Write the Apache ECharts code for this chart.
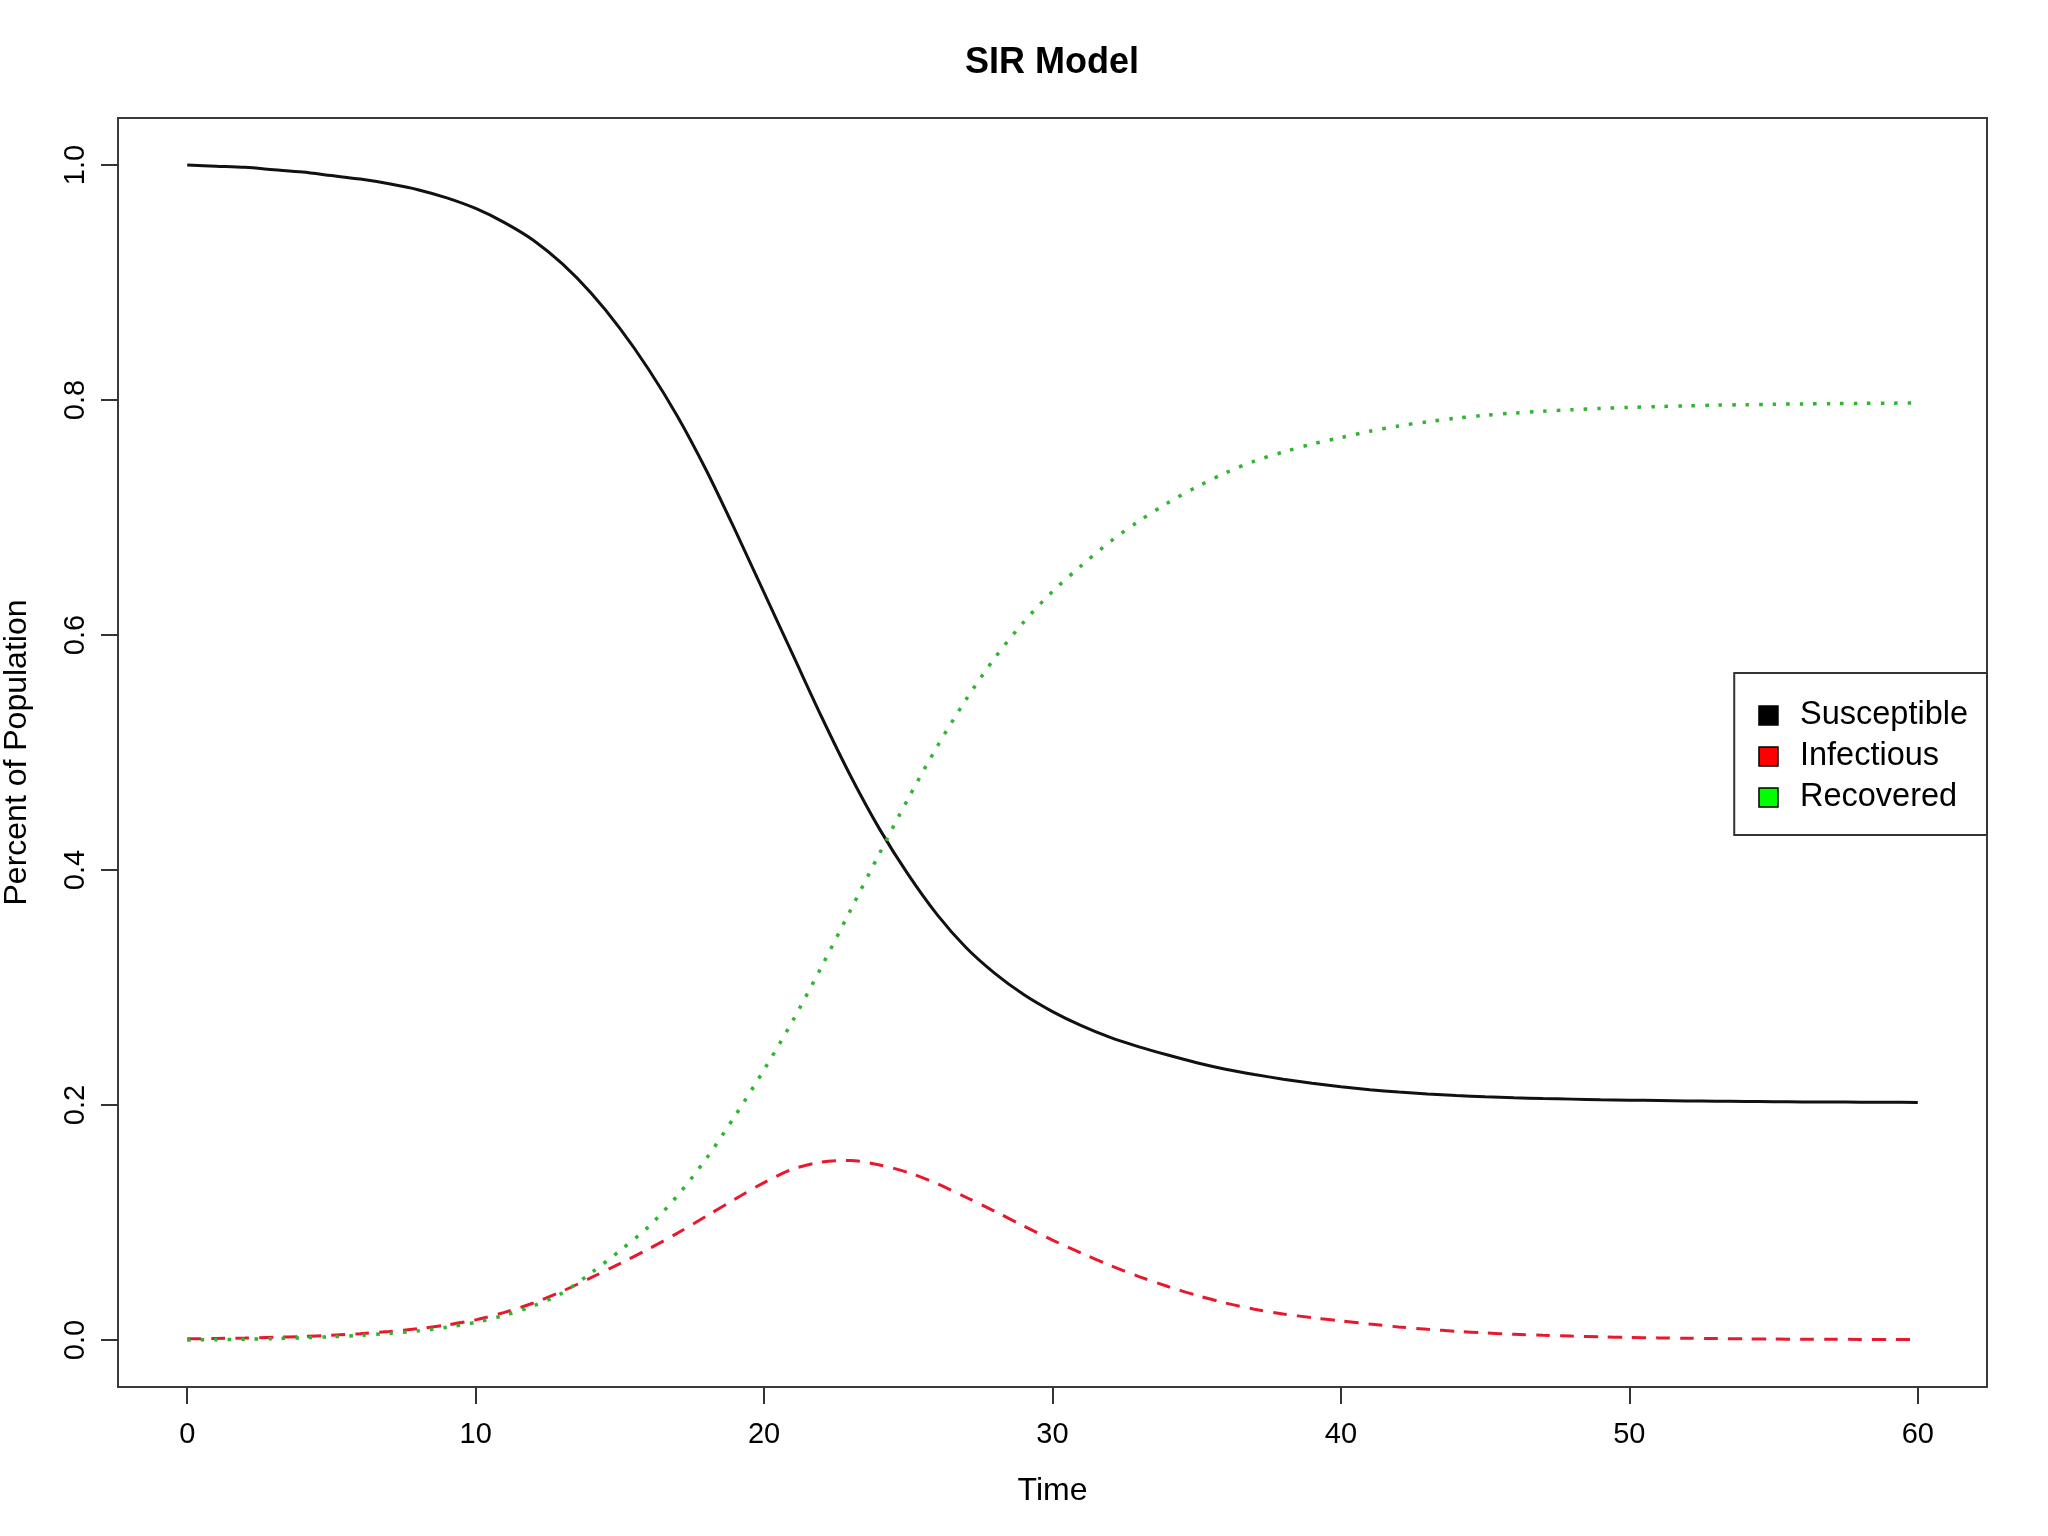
<!DOCTYPE html>
<html>
<head>
<meta charset="utf-8">
<script src="https://cdn.jsdelivr.net/npm/echarts@6/dist/echarts.min.js"></script>
<style>
html,body{margin:0;padding:0;background:#fff;}
#chart{width:2048px;height:1536px;}
</style>
</head>
<body>
<div id="chart"></div>
<script>
// Time points
var times = [0,1,2,3,4,5,6,7,8,9,10,11,12,13,14,15,16,17,18,19,20,21,22,23,24,25,26,27,28,29,30,31,32,33,34,35,36,37,38,39,40,41,42,43,44,45,46,47,48,49,50,51,52,53,54,55,56,57,58,59,60];
// Susceptible
var susceptible = [1.000,0.999,0.998,0.996,0.994,0.991,0.988,0.984,0.979,0.972,0.963,0.951,0.936,0.916,0.891,0.861,0.826,0.786,0.740,0.689,0.636,0.583,0.530,0.480,0.435,0.396,0.362,0.334,0.312,0.294,0.2795,0.2675,0.2575,0.2495,0.2425,0.236,0.2305,0.226,0.222,0.2185,0.2155,0.2130,0.2110,0.2094,0.2081,0.2070,0.2062,0.2055,0.2050,0.2045,0.2041,0.2038,0.2035,0.2032,0.2030,0.2028,0.2026,0.2025,0.2024,0.2023,0.2022];
// Infectious
var infectious = [0.0010,0.0013,0.0017,0.0023,0.0030,0.0040,0.0054,0.0072,0.0096,0.0128,0.0171,0.0235,0.0315,0.0415,0.0530,0.0650,0.0775,0.0910,0.1055,0.1200,0.1340,0.1455,0.1515,0.1527,0.1490,0.1425,0.1330,0.1215,0.1095,0.0970,0.0850,0.0740,0.0635,0.0540,0.0455,0.0380,0.0315,0.0262,0.0222,0.0190,0.0163,0.0136,0.0111,0.0091,0.0074,0.0060,0.0049,0.0040,0.0033,0.0027,0.0022,0.0018,0.0015,0.0012,0.0010,0.0008,0.0007,0.0006,0.0005,0.0004,0.0003];
// Recovered
var recovered = [0.0000,0.0003,0.0007,0.0012,0.0019,0.0028,0.0040,0.0056,0.0078,0.0108,0.0150,0.0210,0.0290,0.0400,0.0570,0.0760,0.0965,0.1230,0.1545,0.1910,0.2300,0.2720,0.3180,0.3660,0.4140,0.4610,0.5050,0.5450,0.5805,0.6110,0.6370,0.6590,0.6795,0.6970,0.7125,0.7260,0.7380,0.7480,0.7557,0.7625,0.7680,0.7734,0.7779,0.7815,0.7845,0.7870,0.7889,0.7905,0.7917,0.7928,0.7937,0.7944,0.7950,0.7956,0.7960,0.7964,0.7967,0.7969,0.7971,0.7973,0.7975];

var xTicks = [0,10,20,30,40,50,60];
var yTicks = [0,0.2,0.4,0.6,0.8,1.0];
var yTickLabels = ['0.0','0.2','0.4','0.6','0.8','1.0'];
var seriesNames = ['Susceptible','Infectious','Recovered'];

function pairs(arr){ return times.map(function(t,i){ return [t, arr[i]]; }); }

var FONT = '"Liberation Sans", Arial, Helvetica, sans-serif';
var chart = echarts.init(document.getElementById('chart'), null, {renderer:'canvas'});
chart.setOption({
  animation: false,
  backgroundColor: '#ffffff',
  title: {
    text: 'SIR Model', left: 1047, top: 40, textAlign: 'center',
    textStyle: {fontFamily: FONT, fontSize: 36, fontWeight: 'bold', color: '#000'}
  },
  legend: {
    right: 61, top: 673, orient: 'vertical',
    padding: [26, 19, 21, 24],
    borderColor: '#333', borderWidth: 2,
    itemWidth: 19, itemHeight: 19, itemGap: 8,
    textStyle: {fontFamily: FONT, fontSize: 32.5, color: '#000', lineHeight: 32, padding: [0,0,0,17]},
    data: [
      {name: seriesNames[0], icon: 'rect', itemStyle: {color: '#000000', borderColor: '#000', borderWidth: 1.5}},
      {name: seriesNames[1], icon: 'rect', itemStyle: {color: '#ff0000', borderColor: '#000', borderWidth: 1.5}},
      {name: seriesNames[2], icon: 'rect', itemStyle: {color: '#00ff00', borderColor: '#000', borderWidth: 1.5}}
    ]
  },
  grid: {
    left: 118, top: 118, right: 61, bottom: 149,
    outerBoundsMode: 'none', containLabel: false,
    show: true, borderColor: '#3a3a3a', borderWidth: 2, backgroundColor: '#fff'
  },
  xAxis: {
    type: 'value', min: -2.4, max: 62.4,
    name: 'Time', nameLocation: 'middle', nameGap: 88,
    nameTextStyle: {fontFamily: FONT, fontSize: 32, color: '#000'},
    axisLine: {show: false, onZero: false},
    axisTick: {show: true, length: 17, inside: false, customValues: xTicks, lineStyle: {color: '#333', width: 2}},
    axisLabel: {customValues: xTicks, margin: 33, fontFamily: FONT, fontSize: 29, color: '#000'},
    splitLine: {show: false}
  },
  yAxis: {
    type: 'value', min: -0.04, max: 1.04,
    name: 'Percent of Population', nameLocation: 'middle', nameGap: 85, nameRotate: 90,
    nameTextStyle: {fontFamily: FONT, fontSize: 32, color: '#000'},
    axisLine: {show: false, onZero: false},
    axisTick: {show: true, length: 17, inside: false, customValues: yTicks, lineStyle: {color: '#333', width: 2}},
    axisLabel: {customValues: yTicks, rotate: 90, margin: 28, fontFamily: FONT, fontSize: 29, color: '#000',
      formatter: function(v){ var i = yTicks.findIndex(function(t){return Math.abs(t-v)<1e-9;}); return i>=0 ? yTickLabels[i] : v.toFixed(1); }},
    splitLine: {show: false}
  },
  series: [
    {name: seriesNames[0], type: 'line', data: pairs(susceptible), showSymbol: false, smooth: 0.3,
     itemStyle: {color: '#000000'}, lineStyle: {color: '#111111', width: 3, type: 'solid'}},
    {name: seriesNames[1], type: 'line', data: pairs(infectious), showSymbol: false, smooth: 0.3,
     itemStyle: {color: '#ff0000'}, lineStyle: {color: '#e8182f', width: 3, type: [14, 10], cap: 'butt'}},
    {name: seriesNames[2], type: 'line', data: pairs(recovered), showSymbol: false, smooth: 0.3,
     itemStyle: {color: '#00ff00'}, lineStyle: {color: '#2fb52f', width: 3.5, type: [3.5, 10], cap: 'butt'}}
  ]
});
</script>
</body>
</html>
